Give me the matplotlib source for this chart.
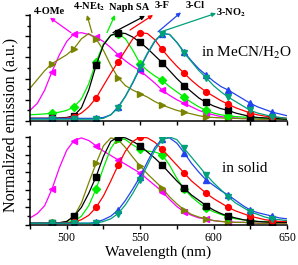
import numpy as np
import matplotlib
matplotlib.use("Agg")
import matplotlib.pyplot as plt
from matplotlib.ticker import MultipleLocator

plt.rcParams['font.family'] = ['Liberation Serif', 'DejaVu Serif']
plt.rcParams['mathtext.fontset'] = 'stix'

# wavelength grid (nm)
wavelength = [475, 480, 485, 490, 495, 500, 505, 510, 515, 520, 525, 530,
              535, 540, 545, 550, 555, 560, 565, 570, 575, 580, 585, 590,
              595, 600, 605, 610, 615, 620, 625, 630, 635, 640, 645, 650]

# in MeCN/H2O
ome_sol = [0.12, 0.2, 0.35, 0.56, 0.75, 0.9, 0.99, 1.0, 0.98, 0.95, 0.9, 0.83,
           0.75, 0.68, 0.62, 0.57, 0.5, 0.43, 0.35, 0.29, 0.24, 0.2, 0.16, 0.12,
           0.09, 0.07, 0.05, 0.04, 0.035, 0.03, 0.03, 0.025, 0.02, 0.02, 0.02, 0.02]
net_sol = [0.37, 0.47, 0.57, 0.65, 0.7, 0.75, 0.82, 0.93, 0.99, 0.93, 0.8, 0.63,
           0.49, 0.4, 0.35, 0.31, 0.27, 0.22, 0.18, 0.15, 0.12, 0.1, 0.08, 0.06,
           0.045, 0.04, 0.035, 0.03, 0.03, 0.025, 0.025, 0.02, 0.02, 0.02, 0.02, 0.02]
naph_sol = [0.07, 0.075, 0.08, 0.09, 0.1, 0.12, 0.16, 0.25, 0.42, 0.67, 0.87, 0.97,
            0.99, 0.93, 0.8, 0.65, 0.57, 0.51, 0.46, 0.39, 0.33, 0.27, 0.21, 0.16,
            0.12, 0.09, 0.07, 0.06, 0.05, 0.045, 0.04, 0.035, 0.03, 0.03, 0.025, 0.02]
sa_sol = [0.03, 0.03, 0.03, 0.03, 0.035, 0.04, 0.06, 0.15, 0.35, 0.63, 0.86, 0.97,
          1.0, 0.99, 0.95, 0.89, 0.82, 0.74, 0.66, 0.57, 0.48, 0.4, 0.33, 0.26,
          0.21, 0.17, 0.14, 0.12, 0.09, 0.07, 0.05, 0.04, 0.035, 0.03, 0.025, 0.02]
f_sol = [0.03, 0.03, 0.03, 0.03, 0.03, 0.035, 0.05, 0.09, 0.16, 0.26, 0.4, 0.54,
         0.67, 0.8, 0.93, 1.0, 0.99, 0.92, 0.81, 0.71, 0.62, 0.54, 0.46, 0.39,
         0.33, 0.28, 0.23, 0.19, 0.15, 0.12, 0.09, 0.07, 0.055, 0.045, 0.04, 0.03]
cl_sol = [0.03, 0.03, 0.03, 0.03, 0.03, 0.03, 0.03, 0.03, 0.03, 0.03, 0.04, 0.07,
          0.16, 0.28, 0.43, 0.6, 0.76, 0.9, 0.99, 0.98, 0.89, 0.78, 0.68, 0.59,
          0.52, 0.45, 0.39, 0.35, 0.3, 0.25, 0.2, 0.16, 0.13, 0.1, 0.08, 0.06]
no2_sol = [0.02, 0.02, 0.02, 0.02, 0.02, 0.02, 0.02, 0.02, 0.02, 0.02, 0.03, 0.07,
           0.15, 0.28, 0.44, 0.61, 0.77, 0.91, 0.99, 0.98, 0.89, 0.77, 0.67, 0.57,
           0.49, 0.4, 0.33, 0.27, 0.22, 0.17, 0.12, 0.09, 0.07, 0.05, 0.04, 0.03]

# in solid
ome_solid = [0.08, 0.13, 0.22, 0.41, 0.65, 0.85, 0.96, 0.99, 0.96, 0.9, 0.84, 0.79,
             0.74, 0.69, 0.64, 0.59, 0.52, 0.45, 0.38, 0.29, 0.21, 0.15, 0.11, 0.08,
             0.07, 0.05, 0.04, 0.035, 0.03, 0.03, 0.025, 0.02, 0.02, 0.02, 0.02, 0.02]
net_solid = [0.02, 0.02, 0.02, 0.02, 0.025, 0.04, 0.1, 0.25, 0.48, 0.7, 0.9, 0.99,
             0.97, 0.88, 0.77, 0.67, 0.58, 0.5, 0.42, 0.32, 0.24, 0.17, 0.12, 0.09,
             0.07, 0.05, 0.04, 0.035, 0.03, 0.03, 0.025, 0.02, 0.02, 0.02, 0.02, 0.02]
naph_solid = [0.02, 0.02, 0.02, 0.02, 0.025, 0.03, 0.04, 0.1, 0.22, 0.41, 0.65, 0.87,
              0.99, 0.97, 0.91, 0.86, 0.84, 0.83, 0.8, 0.68, 0.53, 0.41, 0.32, 0.25,
              0.19, 0.15, 0.12, 0.09, 0.07, 0.06, 0.05, 0.04, 0.04, 0.035, 0.03, 0.03]
sa_solid = [0.02, 0.02, 0.02, 0.02, 0.025, 0.04, 0.1, 0.2, 0.36, 0.55, 0.78, 0.95,
            1.0, 0.99, 0.95, 0.9, 0.83, 0.76, 0.68, 0.59, 0.5, 0.42, 0.34, 0.28,
            0.22, 0.17, 0.13, 0.1, 0.08, 0.06, 0.05, 0.04, 0.035, 0.03, 0.03, 0.03]
f_solid = [0.02, 0.02, 0.02, 0.02, 0.02, 0.025, 0.03, 0.06, 0.11, 0.2, 0.33, 0.5,
           0.68, 0.84, 0.95, 1.0, 0.99, 0.94, 0.86, 0.77, 0.68, 0.59, 0.5, 0.43,
           0.36, 0.3, 0.25, 0.2, 0.16, 0.13, 0.1, 0.08, 0.06, 0.05, 0.04, 0.04]
cl_solid = [0.02, 0.02, 0.02, 0.02, 0.02, 0.02, 0.02, 0.02, 0.02, 0.03, 0.06, 0.1,
            0.17, 0.28, 0.41, 0.55, 0.72, 0.88, 0.98, 0.99, 0.93, 0.82, 0.7, 0.6,
            0.51, 0.45, 0.39, 0.34, 0.28, 0.22, 0.17, 0.14, 0.12, 0.1, 0.08, 0.07]
no2_solid = [0.02, 0.02, 0.02, 0.02, 0.02, 0.02, 0.02, 0.02, 0.02, 0.02, 0.04, 0.07,
             0.13, 0.23, 0.36, 0.51, 0.68, 0.85, 0.97, 1.0, 0.97, 0.87, 0.77, 0.67,
             0.57, 0.48, 0.4, 0.32, 0.25, 0.2, 0.15, 0.12, 0.09, 0.07, 0.06, 0.05]

# (name, colour, marker, series in MeCN/H2O, series in solid)
series = [
    ('4-OMe', '#FF00FF', '<', ome_sol, ome_solid),
    ('4-NEt2', '#7A8400', '>', net_sol, net_solid),
    ('Naph', '#00EE00', 'D', naph_sol, naph_solid),
    ('SA', '#000000', 's', sa_sol, sa_solid),
    ('3-F', '#FF0000', 'o', f_sol, f_solid),
    ('3-Cl', '#2244EE', '^', cl_sol, cl_solid),
    ('3-NO2', '#00A07A', 'v', no2_sol, no2_solid),
]

fig = plt.figure(figsize=(2.98, 2.65), dpi=100)
ax1 = fig.add_axes([0.1007, 0.5434, 0.8624, 0.4])
ax2 = fig.add_axes([0.1007, 0.151, 0.8624, 0.332])

for name, col, mk, sol, solid in series:
    ms = 3.6 if mk == 'D' else 4.2
    ax1.plot(wavelength, sol, color=col, marker=mk, ms=ms, lw=0.9,
             markevery=slice(3, None, 3), mec=col, mfc=col)
    ax2.plot(wavelength, solid, color=col, marker=mk, ms=ms, lw=0.9,
             markevery=slice(3, None, 3), mec=col, mfc=col)

ax1.set_ylim(0, 1.2)
ax2.set_ylim(0, 1.0)
ax1.yaxis.set_major_locator(MultipleLocator(0.24))
ax1.yaxis.set_minor_locator(MultipleLocator(0.12))
ax2.yaxis.set_major_locator(MultipleLocator(0.2))
ax2.yaxis.set_minor_locator(MultipleLocator(0.1))

for ax in (ax1, ax2):
    ax.set_xlim(475, 650)
    ax.set_xticks([500, 550, 600, 650])
    ax.xaxis.set_minor_locator(MultipleLocator(25))
    ax.spines['top'].set_visible(False)
    ax.spines['right'].set_visible(False)
    ax.spines['left'].set_linewidth(1.1)
    ax.spines['bottom'].set_linewidth(1.1)
    ax.tick_params(axis='both', which='both', direction='out', width=1.0,
                   labelleft=False, labelsize=8.5, pad=2)
    ax.tick_params(axis='x', which='both', length=3)
    ax.tick_params(axis='y', which='major', length=3.5)
    ax.tick_params(axis='y', which='minor', length=2)

ax1.tick_params(axis='x', labelbottom=False)
ax2.set_xlabel('Wavelength (nm)', fontsize=11, labelpad=1)
fig.text(0.035, 0.53, 'Normalized emission (a.u.)', rotation=90,
         fontsize=11.5, ha='center', va='center')

ax1.text(0.665, 0.64, 'in MeCN/H$_2$O', transform=ax1.transAxes,
         fontsize=11, ha='left', va='center', clip_on=False)
ax2.text(0.747, 0.64, 'in solid', transform=ax2.transAxes,
         fontsize=11, ha='left', va='center')

# arrows from the peaks to the labels
arrows = [
    ('#FF00FF', (502.9, 1.0), (488.6, 1.17)),
    ('#7A8400', (517.2, 1.0), (513.8, 1.2)),
    ('#00EE00', (527.4, 1.0), (532.9, 1.2)),
    ('#000000', (531.5, 1.0), (553.3, 1.19)),
    ('#FF0000', (543.1, 1.03), (558.8, 1.2)),
    ('#2244EE', (562.2, 1.01), (577.8, 1.23)),
    ('#00A07A', (564.2, 1.01), (601.7, 1.22)),
]
for col, start, tip in arrows:
    ax1.annotate('', xy=tip, xytext=start, annotation_clip=False,
                 arrowprops=dict(arrowstyle='-|>', color=col, lw=0.9,
                                 mutation_scale=6, shrinkA=0, shrinkB=0))

lab = dict(fontsize=7.5, fontweight='bold', ha='center', va='center')
fig.text(49 / 298, 1 - 12 / 265, '4-OMe', **lab)
fig.text(89 / 298, 1 - 7 / 265, '4-NEt$_\\mathbf{2}$', **lab)
fig.text(129 / 298, 1 - 7 / 265, 'Naph SA', **lab)
fig.text(162 / 298, 1 - 5 / 265, '3-F', **lab)
fig.text(195 / 298, 1 - 5 / 265, '3-Cl', **lab)
fig.text(231 / 298, 1 - 13 / 265, '3-NO$_\\mathbf{2}$', **lab)

fig.savefig('out.png', dpi=100)
